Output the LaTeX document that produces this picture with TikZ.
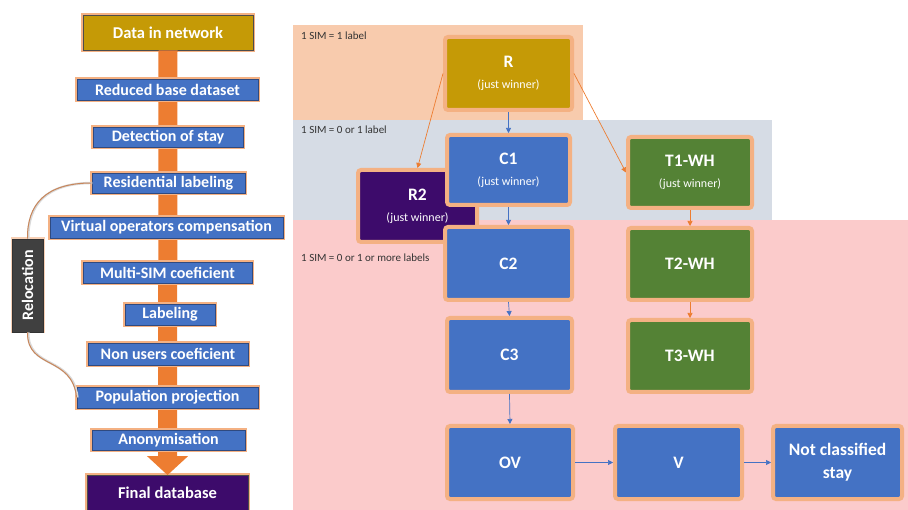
\documentclass[tikz,border=0pt]{standalone}
\usepackage{fontspec}
\setmainfont{Carlito}
\usetikzlibrary{arrows.meta}
\definecolor{cblue}{HTML}{4472C4}
\definecolor{cblueedge}{HTML}{2F4A80}
\definecolor{cglow}{HTML}{F4B183}
\definecolor{corange}{HTML}{ED7D31}
\definecolor{cgold}{HTML}{C59A06}
\definecolor{cgreen}{HTML}{548235}
\definecolor{cpurple}{HTML}{3D0B6B}
\definecolor{cpeach}{HTML}{F8CBAD}
\definecolor{cgray}{HTML}{D6DCE5}
\definecolor{cpink}{HTML}{FBCBCB}
\definecolor{creloc}{HTML}{404040}
\definecolor{cline}{HTML}{C8865A}
\newcommand{\subtxt}{\mdseries\fontsize{12}{14}\selectfont}
\begin{document}
\begin{tikzpicture}[x=1pt,y=-1pt,
  leftbox/.style={fill=cblue, draw=cblueedge, line width=0.8pt,
    preaction={draw=cglow, line width=4pt},
    text=white, inner sep=0pt, font=\bfseries\fontsize{16}{18}\selectfont,
    minimum height=21pt},
  bignode/.style={fill=#1, draw=cglow, line width=4pt, rounded corners=3pt,
    text=white, inner sep=0pt, align=center,
    font=\bfseries\fontsize{17.5}{20}\selectfont},
  regionlabel/.style={anchor=west, inner sep=0pt, text=black!80,
    font=\fontsize{11}{13}\selectfont},
  barrow/.style={draw=cblue, line width=0.7pt, -{Triangle[length=5pt,width=5pt]}},
  oarrow/.style={draw=corange, line width=0.7pt, -{Triangle[length=5pt,width=5pt]}},
  relocline/.style={draw=cline, line width=1pt,
    preaction={draw=white!85!black, line width=2.4pt, transform canvas={xshift=0.8pt}}}
]
\useasboundingbox (0,0) rectangle (908,510);

% regions
\fill[cpeach] (293,25) rectangle (583,120);
\fill[cgray] (293,120) rectangle (772,220);
\fill[cpink] (293,220) rectangle (908,510);
\node[regionlabel] (lab1) at (301,36) {1 SIM = 1 label};
\node[regionlabel] (lab2) at (301,130) {1 SIM = 0 or 1 label};
\node[regionlabel] (lab3) at (301,258) {1 SIM = 0 or 1 or more labels};

% left column nodes
\node[leftbox, fill=cgold, draw=black!70, minimum width=170pt, minimum height=35pt, font=\bfseries\fontsize{16.5}{18}\selectfont] (data) at (168,32.5) {Data in network};
\node[leftbox, fill=cpurple, draw=black!70, minimum width=161pt, minimum height=35pt, font=\bfseries\fontsize{16.5}{18}\selectfont] (final) at (167.5,493) {Final database};

% big orange arrow
\draw[corange, line width=19pt, -{Triangle[length=19pt,width=40pt]}] (data.south) -- (final.north);

\node[leftbox, minimum width=181pt] (red) at (167.5,89.5) {Reduced base dataset};
\node[leftbox, minimum width=150pt, minimum height=20pt] (det) at (168,137) {Detection of stay};
\node[leftbox, minimum width=153pt, minimum height=20pt] (res) at (168.5,183) {Residential labeling};
\node[leftbox, minimum width=233pt] (virt) at (166.5,227.5) {Virtual operators compensation};
\node[leftbox, minimum width=169pt] (multi) at (167.5,272.5) {Multi-SIM coeficient};
\node[leftbox, minimum width=90pt] (lab) at (170,314.5) {Labeling};
\node[leftbox, minimum width=160pt, minimum height=22pt] (nonu) at (168,354) {Non users coeficient};
\node[leftbox, minimum width=181pt] (pop) at (167.5,397.5) {Population projection};
\node[leftbox, minimum width=153pt, minimum height=20pt] (anon) at (168.5,440) {Anonymisation};

\node[fill=creloc, draw=black!80, line width=0.8pt, preaction={draw=cglow!60, line width=3pt},
  minimum width=31pt, minimum height=93pt, inner sep=0pt] (reloc) at (27.5,285.5) {};
\node[text=white, rotate=90, font=\bfseries\fontsize{16}{18}\selectfont] (reloctext) at (reloc.center) {Relocation};

\draw[relocline] (res.west) .. controls (45,183) and (27,205) .. (reloc.north);
\draw[relocline] (reloc.south) .. controls (27,370) and (72,355) .. (pop.west);

% right nodes
\node[bignode=cgold, minimum width=127pt, minimum height=73pt] (R) at (508.5,73.5) {R\\[1pt]{\subtxt (just winner)}};
\node[bignode=cpurple, minimum width=119pt, minimum height=72pt] (R2) at (417.5,206) {R2\\[1pt]{\subtxt (just winner)}};
\node[bignode=cblue, minimum width=123pt, minimum height=70pt] (C1) at (508.5,170) {C1\\[1pt]{\subtxt (just winner)}};
\node[bignode=cgreen, minimum width=124pt, minimum height=71pt] (T1) at (690,172.5) {T1-WH\\[1pt]{\subtxt (just winner)}};
\node[bignode=cgreen, minimum width=124pt, minimum height=72pt] (T2) at (690,264) {T2-WH};
\node[bignode=cgreen, minimum width=124pt, minimum height=72pt] (T3) at (690,356) {T3-WH};
\node[bignode=cblue, minimum width=127pt, minimum height=73pt] (C2) at (508.5,263.5) {C2};
\node[bignode=cblue, minimum width=125pt, minimum height=74pt] (C3) at (509.5,355) {C3};
\node[bignode=cblue, minimum width=126pt, minimum height=73pt] (OV) at (510,462.5) {OV};
\node[bignode=cblue, minimum width=127pt, minimum height=73pt] (V) at (678.5,462.5) {V};
\node[bignode=cblue, minimum width=129pt, minimum height=73pt] (NCS) at (837.5,462.5) {Not classified\\[3pt]stay};

% connectors
\draw[barrow] (R.south) -- (C1.north);
\draw[barrow] (C1.south) -- (C2.north);
\draw[barrow] (C2.south) -- (C3.north);
\draw[barrow] (C3.south) -- (OV.north);
\draw[barrow] (OV.east) -- (V.west);
\draw[barrow] (V.east) -- (NCS.west);
\draw[oarrow] (R.west) -- (R2.north);
\draw[oarrow] (R.east) -- (T1.west);
\draw[oarrow] (T1.south) -- (T2.north);
\draw[oarrow] (T2.south) -- (T3.north);
\end{tikzpicture}
\end{document}
